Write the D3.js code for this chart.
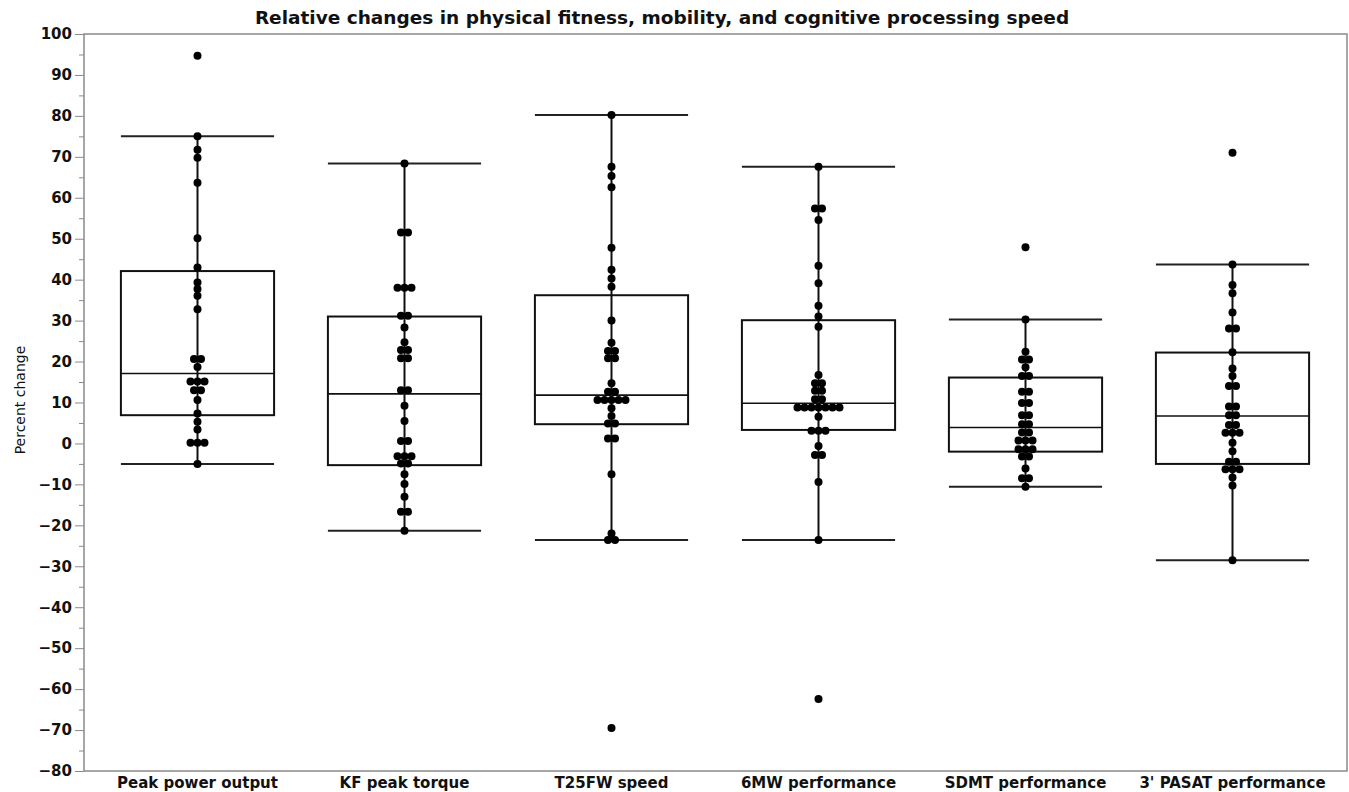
<!DOCTYPE html>
<meta charset="utf-8">
<style>
  body { margin: 0; background: #fff; }
  svg text { font-family: "DejaVu Sans", "Open Sans", sans-serif; }
</style>
<svg id="chart" width="1349" height="792"></svg>
<script src="https://cdn.jsdelivr.net/npm/d3@7"></script>
<script>

var categories = ["Peak power output", "KF peak torque", "T25FW speed",
                  "6MW performance", "SDMT performance", "3' PASAT performance"];

// box stats
var q1       = [6.9, -5.3, 4.7, 3.3, -2.0, -5.0];
var medians  = [17.1, 12.1, 11.8, 9.8, 3.9, 6.7];
var q3       = [42.1, 31.0, 36.2, 30.1, 16.1, 22.2];
var whiskLo  = [-5.0, -21.3, -23.6, -23.6, -10.6, -28.5];
var whiskHi  = [75.0, 68.4, 80.2, 67.6, 30.3, 43.7];

// individual participants (percent change)
var peakPower = [94.7, 75.0, 71.7, 69.8, 63.7, 50.1, 43.0, 39.3, 37.7, 36.1, 32.8,
                 20.6, 20.6, 18.7, 15.1, 15.1, 15.1, 13.0, 13.0, 10.6, 7.3, 5.3, 3.4,
                 0.2, 0.2, 0.2, -5.0];
var kfTorque = [68.4, 51.5, 51.5, 38.0, 38.0, 38.0, 31.2, 31.2, 28.3, 24.7, 22.8, 22.8,
                20.8, 20.8, 13.0, 13.0, 9.2, 5.5, 0.6, 0.6, -3.1, -3.1, -3.1, -4.9, -4.9,
                -7.5, -9.9, -13.0, -16.7, -16.7, -21.3];
var t25fw = [80.2, 67.6, 65.3, 62.6, 47.8, 42.4, 40.3, 38.3, 30.0, 24.6, 22.6, 22.6,
             20.8, 20.8, 14.7, 12.6, 12.6, 10.6, 10.6, 10.6, 10.6, 10.6, 8.6, 6.7, 4.9, 4.9,
             1.2, 1.2, -7.5, -22.0, -23.6, -23.6, -69.5];
var sixMW = [67.6, 57.4, 57.4, 54.6, 43.4, 39.1, 33.6, 31.0, 28.5, 16.7, 14.7, 14.7,
             12.9, 12.9, 10.8, 10.8, 8.8, 8.8, 8.8, 8.8, 8.8, 8.8, 8.8, 6.5, 3.1, 3.1, 3.1,
             -0.6, -2.8, -2.8, -9.4, -23.6, -62.4];
var sdmt = [47.9, 30.3, 22.4, 20.5, 20.5, 18.6, 16.5, 16.5, 12.6, 12.6, 9.9, 9.9,
            6.9, 6.9, 4.7, 4.7, 2.7, 2.7, 0.7, 0.7, 0.7, -1.4, -1.4, -1.4, -3.2, -3.2,
            -6.1, -8.5, -8.5, -10.6];
var pasat = [71.0, 43.7, 38.7, 36.7, 32.0, 28.1, 28.1, 22.3, 18.3, 16.5, 14.0, 14.0,
             9.0, 9.0, 6.9, 6.9, 4.5, 4.5, 2.6, 2.6, 2.6, 0.2, -1.9, -4.5, -4.5,
             -6.3, -6.3, -6.3, -8.3, -10.3, -28.5];
var points = [peakPower, kfTorque, t25fw, sixMW, sdmt, pasat];

var yTicks = d3.range(-80, 101, 10);

var svg = d3.select("#chart"),
    margin = {top: 34, right: 2, bottom: 21, left: 84},
    width = +svg.attr("width") - margin.left - margin.right,
    height = +svg.attr("height") - margin.top - margin.bottom,
    g = svg.append("g").attr("transform", "translate(" + margin.left + "," + margin.top + ")");

var x = d3.scaleBand()
    .domain(categories)
    .range([10, width - 11]);

var y = d3.scaleLinear()
    .domain([-80, 100])
    .range([height, 0]);

var boxW = x.bandwidth() * 0.74;

// frame
g.append("rect")
    .attr("width", width)
    .attr("height", height)
    .attr("fill", "none")
    .attr("stroke", "#8a8a8a")
    .attr("stroke-width", 1.5);

// minor ticks
g.append("g")
    .call(d3.axisLeft(y).tickValues(d3.range(-75, 100, 10)).tickSize(5).tickFormat(""))
    .call(function(a) { a.select(".domain").remove(); })
    .selectAll("line").attr("stroke", "#8a8a8a");

// major ticks
g.append("g")
    .call(d3.axisLeft(y).tickValues(yTicks).tickSize(9).tickPadding(3)
      .tickFormat(function(d) { return d < 0 ? "\u2212" + (-d) : d; }))
    .call(function(a) { a.select(".domain").remove(); })
    .call(function(a) { a.selectAll("line").attr("stroke", "#8a8a8a"); })
    .selectAll("text")
      .attr("fill", "#111")
      .attr("font-size", 15)
      .attr("font-weight", "bold");

// x labels
g.append("g")
    .attr("transform", "translate(0," + height + ")")
    .call(d3.axisBottom(x).tickSize(0).tickPadding(6))
    .call(function(a) { a.select(".domain").remove(); })
    .selectAll("text")
      .attr("fill", "#111")
      .attr("font-size", 15)
      .attr("font-weight", "bold");

var groups = g.selectAll(".grp")
  .data(categories)
  .enter().append("g")
    .attr("class", "grp")
    .attr("transform", function(d) { return "translate(" + (x(d) + x.bandwidth() / 2) + ",0)"; });

// whisker line
groups.append("line")
    .attr("y1", function(d, i) { return y(whiskHi[i]); })
    .attr("y2", function(d, i) { return y(whiskLo[i]); })
    .attr("stroke", "#111")
    .attr("stroke-width", 2);

// caps
[whiskHi, whiskLo].forEach(function(arr) {
  groups.append("line")
      .attr("x1", -boxW / 2)
      .attr("x2", boxW / 2)
      .attr("y1", function(d, i) { return y(arr[i]); })
      .attr("y2", function(d, i) { return y(arr[i]); })
      .attr("stroke", "#222")
      .attr("stroke-width", 2);
});

// box
groups.append("rect")
    .attr("x", -boxW / 2)
    .attr("width", boxW)
    .attr("y", function(d, i) { return y(q3[i]); })
    .attr("height", function(d, i) { return y(q1[i]) - y(q3[i]); })
    .attr("fill", "none")
    .attr("stroke", "#111")
    .attr("stroke-width", 2);

groups.append("line")
    .attr("x1", -boxW / 2)
    .attr("x2", boxW / 2)
    .attr("y1", function(d, i) { return y(medians[i]); })
    .attr("y2", function(d, i) { return y(medians[i]); })
    .attr("stroke", "#111")
    .attr("stroke-width", 1.6);

// dots: equal values sit side by side, centred on the whisker
var dx = 7;
groups.each(function(d, i) {
  var counts = d3.rollup(points[i], function(v) { return v.length; }, function(v) { return v; });
  var seen = new Map();
  var laid = points[i].map(function(v) {
    var k = seen.get(v) || 0;
    seen.set(v, k + 1);
    return {v: v, off: (k - (counts.get(v) - 1) / 2) * dx};
  });
  d3.select(this).selectAll("circle")
    .data(laid)
    .enter().append("circle")
      .attr("cx", function(p) { return p.off; })
      .attr("cy", function(p) { return y(p.v); })
      .attr("r", 4)
      .attr("fill", "#000");
});

// titles
svg.append("text")
    .attr("x", 662)
    .attr("y", 24)
    .attr("text-anchor", "middle")
    .attr("font-size", 18.5)
    .attr("font-weight", "bold")
    .attr("fill", "#111")
    .text("Relative changes in physical fitness,  mobility, and cognitive processing speed");

svg.append("text")
    .attr("transform", "translate(25,400) rotate(-90)")
    .attr("text-anchor", "middle")
    .attr("font-size", 14)
    .attr("fill", "#111")
    .text("Percent change");

</script>
